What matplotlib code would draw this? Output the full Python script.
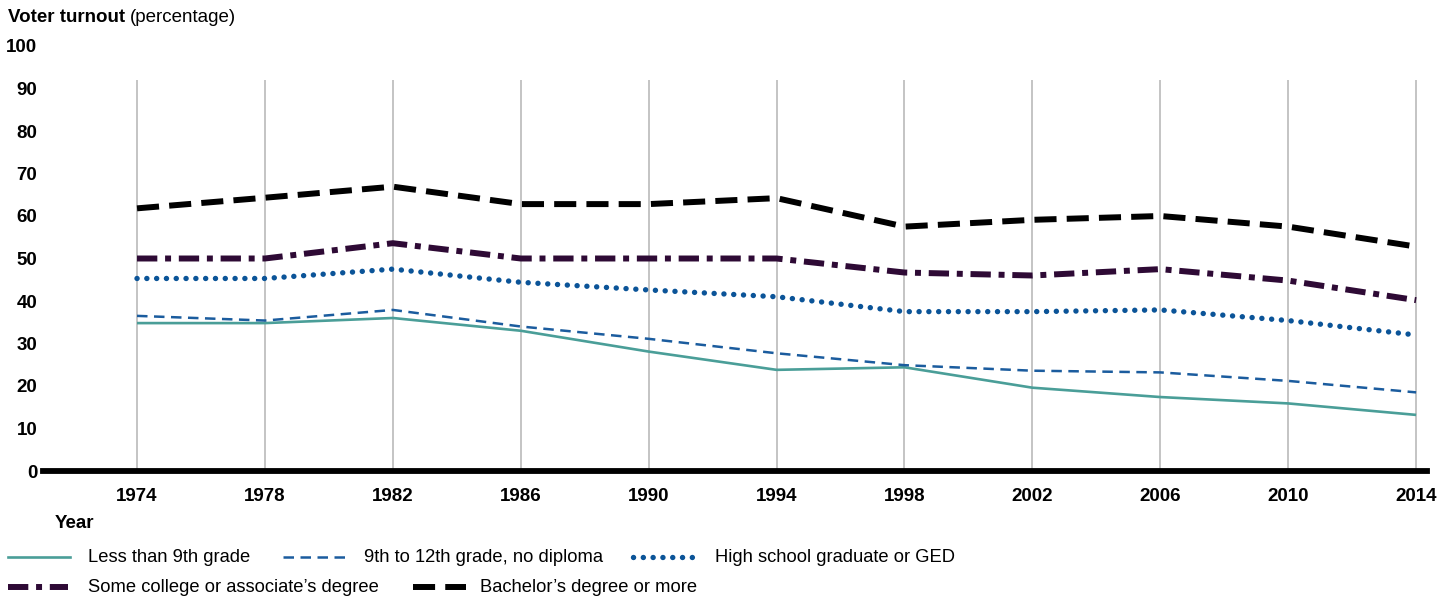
import matplotlib.pyplot as plt
from matplotlib.lines import Line2D

plt.rcParams['font.family'] = ['Liberation Sans', 'DejaVu Sans']

years = [1974, 1978, 1982, 1986, 1990, 1994, 1998, 2002, 2006, 2010, 2014]
less_9th = [34.8, 34.8, 36.0, 33.0, 28.1, 23.8, 24.4, 19.6, 17.4, 15.9, 13.2]
no_diploma = [36.5, 35.4, 37.9, 34.0, 31.1, 27.7, 24.9, 23.6, 23.2, 21.2, 18.5]
high_school = [45.3, 45.3, 47.5, 44.4, 42.6, 41.0, 37.5, 37.5, 37.9, 35.4, 32.0]
some_college = [50.0, 50.0, 53.6, 50.0, 50.0, 50.0, 46.7, 46.0, 47.5, 44.8, 40.2]
bachelor = [61.8, 64.3, 66.9, 62.8, 62.8, 64.2, 57.5, 59.1, 60.0, 57.5, 52.8]

labels = ["Less than 9th grade", "9th to 12th grade, no diploma",
          "High school graduate or GED", "Some college or associate\u2019s degree",
          "Bachelor\u2019s degree or more"]
yticks = list(range(0, 101, 10))

styles = [
    dict(color='#4a9e98', lw=1.9, ls='-'),
    dict(color='#1b5c9e', lw=1.8, ls=(0, (4.2, 2.6))),
    dict(color='#0b5498', lw=3.9, ls=(0, (0.01, 1.8)), dash_capstyle='round'),
    dict(color='#2e0a35', lw=4.3, ls=(0, (3.4, 1.3, 1.0, 1.3))),
    dict(color='black', lw=4.3, ls=(0, (3.7, 1.7))),
]
series = [less_9th, no_diploma, high_school, some_college, bachelor]

W, H = 1455, 598
fig = plt.figure(figsize=(W / 100, H / 100), dpi=100)
ax = fig.add_axes([43 / W, 127 / H, 1384 / W, 425 / H])

# vertical grid at each year
ax.vlines(years, 0, 92, color='#b4b4b4', lw=1.1, zorder=1)

for vals, st in zip(series, styles):
    ax.plot(years, vals, zorder=3, solid_capstyle='butt', **st)

ax.axhline(0, color='black', lw=4.2, zorder=4, clip_on=False)

ax.set_xlim(1971.06, 2014.34)
ax.set_ylim(0, 100)
ax.set_xticks(years)
ax.set_xticklabels([str(y) for y in years], fontsize=13.5, fontweight='bold')
ax.set_yticks(yticks)
ax.set_yticklabels([str(v) for v in yticks], fontsize=13.5, fontweight='bold')
ax.tick_params(length=0)
ax.tick_params(axis='x', pad=12)
ax.tick_params(axis='y', pad=4)
for s in ax.spines.values():
    s.set_visible(False)

# title: bold part then regular part
fig.canvas.draw()
r = fig.canvas.get_renderer()
t1 = fig.text(8 / W, 1 - 17 / H, "Voter turnout", fontsize=13.5,
              fontweight='bold', va='center')
bb = t1.get_window_extent(renderer=r)
fig.text((bb.x1 + 5) / W, 1 - 17 / H, "(percentage)", fontsize=13.5, va='center')

fig.text(55 / W, 1 - 524 / H, "Year", fontsize=13.5, fontweight='bold', va='center')

# legend drawn in figure pixels
rows = [(557, [(8, 70, 88, 0), (283, 345, 364, 1), (633, 697, 715, 2)]),
        (587, [(8, 68, 88, 3), (413, 466, 480, 4)])]
for ypix, entries in rows:
    yf = 1 - ypix / H
    for x0, x1, xt, i in entries:
        st = dict(styles[i])
        ls = st.pop('ls')
        fig.add_artist(Line2D([x0 / W, x1 / W], [yf, yf], linestyle=ls,
                              transform=fig.transFigure, **st))
        fig.text(xt / W, yf, labels[i], fontsize=13.2, va='center')

fig.savefig('out.png', dpi=100)
